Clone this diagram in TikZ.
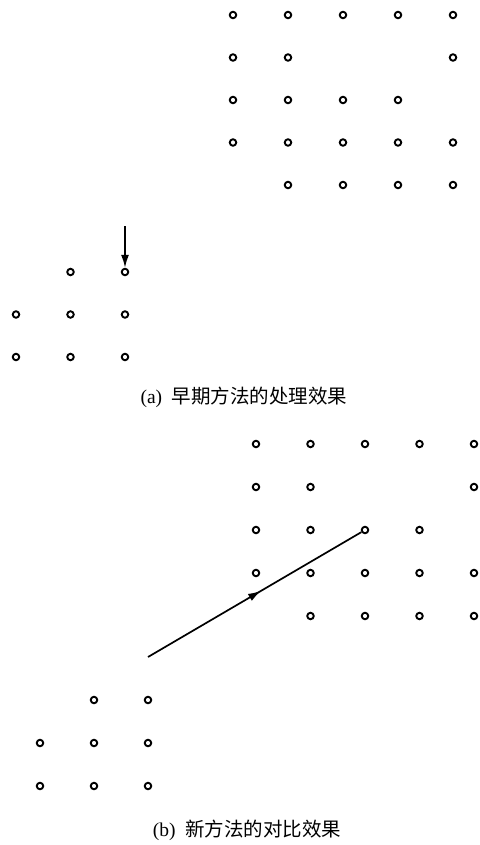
\documentclass[tikz,border=0pt]{standalone}
\usepackage{fontspec}
\setmainfont{Liberation Serif}
\newfontfamily\cjk{Noto Sans CJK SC}
\usetikzlibrary{arrows.meta,decorations.markings}
\begin{document}
\begin{tikzpicture}[x=1pt,y=-1pt,
  dot/.style={circle,draw,line width=1.9pt,minimum size=6.5pt,inner sep=0pt},
  conn/.style={line width=1.7pt},
  caption/.style={font=\fontsize{19.5}{23}\selectfont, inner sep=0pt}]
\useasboundingbox (0,0) rectangle (479,845);
% (a) upper grid
\foreach \r/\cols in {1/{1,2,3,4,5},2/{1,2,5},3/{1,2,3,4},4/{1,2,3,4,5},5/{2,3,4,5}} {
  \foreach \c in \cols {
    \node[dot] (aT-\r-\c) at ({233+55*(\c-1)},{15+42.5*(\r-1)}) {};
  }
}
% (a) lower group
\foreach \r/\cols in {1/{2,3},2/{1,2,3},3/{1,2,3}} {
  \foreach \c in \cols {
    \node[dot] (aB-\r-\c) at ({16+54.5*(\c-1)},{272+42.5*(\r-1)}) {};
  }
}
\coordinate (aS) at (125,226);
\draw[conn,-{Latex[length=13pt,width=8pt]}] (aS) -- (aB-1-3.north);
\node[caption] (capA) at (244,397) {(a)\enspace{\cjk 早期方法的处理效果}};
% (b) upper grid
\foreach \r/\cols in {1/{1,2,3,4,5},2/{1,2,5},3/{1,2,3,4},4/{1,2,3,4,5},5/{2,3,4,5}} {
  \foreach \c in \cols {
    \node[dot] (bT-\r-\c) at ({256+54.5*(\c-1)},{444+43*(\r-1)}) {};
  }
}
% (b) lower group
\foreach \r/\cols in {1/{2,3},2/{1,2,3},3/{1,2,3}} {
  \foreach \c in \cols {
    \node[dot] (bB-\r-\c) at ({40+54*(\c-1)},{700+43*(\r-1)}) {};
  }
}
\coordinate (bS) at (148,657);
\draw[conn, decoration={markings, mark=at position 0.53 with {\arrow{Latex[length=13pt,width=8pt]}}}, postaction={decorate}] (bS) -- (bT-3-3);
\node[caption] (capB) at (247,830) {(b)\enspace{\cjk 新方法的对比效果}};
\end{tikzpicture}
\end{document}
